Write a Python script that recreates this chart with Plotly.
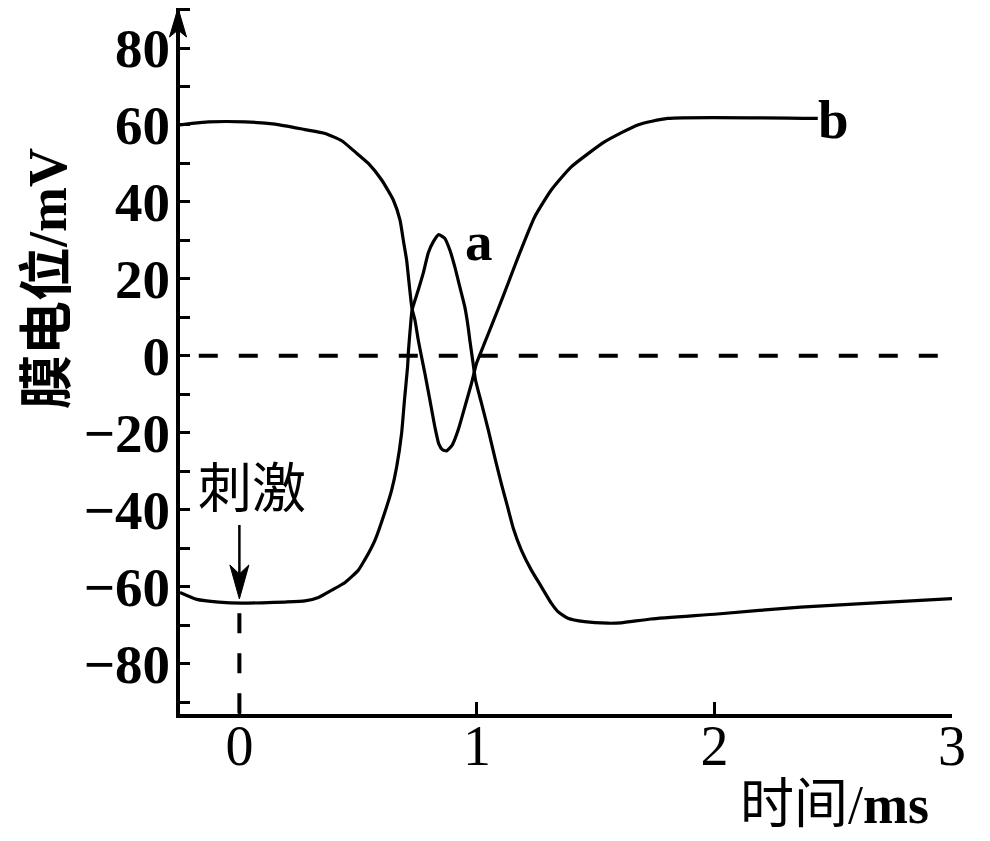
import plotly.graph_objects as go

# ---- data (time in ms, membrane potential in mV) ----
t_a = [-0.25, -0.179, -0.087, 0.011, 0.095, 0.192, 0.276, 0.333, 0.389, 0.445, 0.501, 0.527,
       0.543, 0.571, 0.611, 0.641, 0.662, 0.683, 0.695, 0.708, 0.712, 0.720, 0.727, 0.753,
       0.774, 0.795, 0.816, 0.839, 0.865, 0.886, 0.907, 0.928, 0.949, 0.963, 0.970, 0.984,
       0.994, 1.019, 1.048, 1.078, 1.103, 1.128, 1.153, 1.187, 1.229, 1.271, 1.313, 1.341,
       1.383, 1.453, 1.551, 1.607, 1.733, 2.013, 2.363, 2.658, 3.0]
v_a = [-61.5, -63.3, -64.0, -64.3, -64.2, -64.0, -63.7, -62.8, -60.9, -58.9, -55.7, -53.1,
       -51.4, -47.9, -40.9, -34.9, -28.9, -20.1, -11.5, -2.9, 1.5, 7.5, 11.9, 17.1,
       21.5, 26.7, 29.6, 31.5, 30.5, 27.5, 23.1, 17.9, 12.7, 7.5, 4.1, -2.0,
       -6.3, -12.3, -19.3, -27.1, -33.3, -39.0, -44.8, -50.5, -55.7, -60.0, -64.3, -66.5,
       -68.2, -69.1, -69.5, -69.4, -68.4, -67.1, -65.3, -64.3, -63.1]

t_b = [-0.25, -0.200, -0.129, 0.024, 0.150, 0.276, 0.361, 0.431, 0.487, 0.543, 0.599, 0.648,
       0.676, 0.690, 0.704, 0.713, 0.722, 0.728, 0.739, 0.753, 0.767, 0.781, 0.802, 0.823,
       0.839, 0.855, 0.872, 0.896, 0.921, 0.949, 0.977, 0.998, 1.019, 1.047, 1.089,
       1.131, 1.173, 1.243, 1.313, 1.397, 1.537, 1.677, 1.803, 2.435]
v_b = [60.0, 60.4, 60.8, 60.8, 60.2, 58.8, 57.8, 55.9, 53.0, 50.0, 45.7, 40.5,
       35.3, 30.1, 24.9, 19.7, 14.5, 11.9, 9.3, 4.1, -0.3, -4.6, -11.5, -18.5,
       -22.8, -24.4, -24.7, -23.2, -19.3, -13.3, -7.2, -2.0, 1.3, 5.6, 12.1,
       18.8, 25.6, 36.1, 43.1, 49.1, 55.6, 60.0, 61.7, 61.7]

y_ticks = [-80, -60, -40, -20, 0, 20, 40, 60, 80]
x_ticks = [0, 1, 2, 3]
curve_labels = ["a", "b"]

X_RANGE = [-0.25, 3.0]
Y_RANGE = [-93.1, 90.4]
STIM_TIP = -63.2

SERIF = "Liberation Serif, Noto Sans CJK SC"
CJK = "Noto Sans CJK SC, Liberation Serif"

fig = go.Figure()
fig.add_trace(go.Scatter(x=t_a, y=v_a, mode="lines", name=curve_labels[0],
                         line=dict(color="black", width=3.2, shape="spline", smoothing=0.5)))
fig.add_trace(go.Scatter(x=t_b, y=v_b, mode="lines", name=curve_labels[1],
                         line=dict(color="black", width=3.2, shape="spline", smoothing=0.5)))

# dashed reference lines
fig.add_shape(type="line", x0=-0.171, x1=2.95, y0=0, y1=0, xref="x", yref="y",
              line=dict(color="black", width=4, dash="19px,21px"))
fig.add_shape(type="line", x0=0, x1=0, y0=-66.9, y1=Y_RANGE[0], xref="x", yref="y",
              line=dict(color="black", width=4, dash="20px,20px"))

# y-axis arrowhead
fig.add_shape(type="path", xref="paper", yref="paper", xsizemode="pixel", ysizemode="pixel",
              xanchor=0, yanchor=1,
              path="M-2,0 L-10.5,-29 L-2,-22 L6.5,-29 Z",
              fillcolor="black", line=dict(color="black", width=1))

# stimulus arrow
fig.add_shape(type="line", xref="x", yref="y", xsizemode="pixel", ysizemode="pixel",
              xanchor=0, yanchor=STIM_TIP, x0=0, x1=0, y0=24, y1=74,
              line=dict(color="black", width=2.5))
fig.add_shape(type="path", xref="x", yref="y", xsizemode="pixel", ysizemode="pixel",
              xanchor=0, yanchor=STIM_TIP,
              path="M0,0 L-9.5,34 L0,25 L9.5,34 Z",
              fillcolor="black", line=dict(color="black", width=1))

ann = [
    dict(x=0.053, y=-33.5, xref="x", yref="y", text="刺激",
         font=dict(family=CJK, size=54, color="black")),
    dict(x=1.010, y=29.6, xref="x", yref="y", text="<b>a</b>",
         font=dict(family=SERIF, size=55, color="black")),
    dict(x=2.50, y=61.5, xref="x", yref="y", text="<b>b</b>",
         font=dict(family=SERIF, size=55, color="black")),
    dict(x=0.8480, y=-0.1289, xref="paper", yref="paper", text="时间/<b>ms</b>",
         font=dict(family=SERIF, size=54, color="black")),
    dict(x=-0.1710, y=0.6176, xref="paper", yref="paper", text="<b>膜电位/mV</b>",
         textangle=-90, font=dict(family=SERIF, size=54, color="black")),
]
for a in ann:
    a.update(showarrow=False, xanchor="center", yanchor="middle")
    fig.add_annotation(**a)

fig.update_layout(
    width=990, height=841,
    margin=dict(l=172, r=46, t=0, b=135, pad=0),
    paper_bgcolor="white", plot_bgcolor="white",
    showlegend=False,
    xaxis=dict(range=X_RANGE, tickvals=x_ticks, ticktext=[str(v) for v in x_ticks],
               showline=True, linecolor="black", linewidth=4,
               ticks="inside", ticklen=12, tickwidth=3, tickcolor="black",
               showgrid=False, zeroline=False,
               tickfont=dict(family=SERIF, size=56, color="black"),
               ticklabelstandoff=-20),
    yaxis=dict(range=Y_RANGE, tickvals=y_ticks,
               showline=True, linecolor="black", linewidth=4,
               ticks="inside", ticklen=10, tickwidth=3, tickcolor="black",
               minor=dict(dtick=10, tick0=0, ticks="inside", ticklen=10, tickwidth=3,
                          tickcolor="black", showgrid=False),
               showgrid=False, zeroline=False,
               tickfont=dict(family=SERIF, size=55, color="black", weight="bold"),
               ticklabelstandoff=-5),
)

fig.write_html("out.html")
